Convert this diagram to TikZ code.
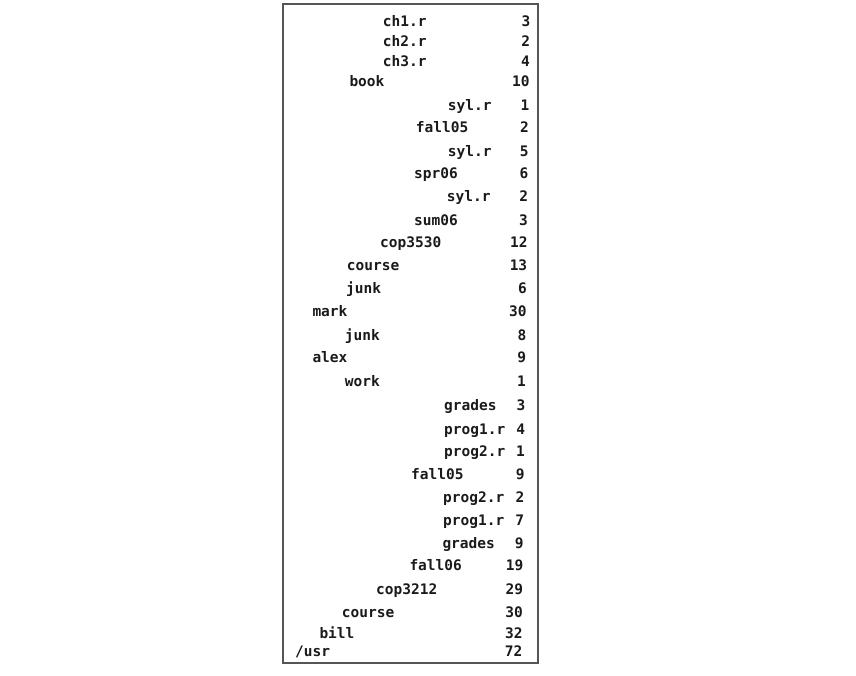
\documentclass[tikz,border=0pt]{standalone}
\usepackage{fontspec}
\setmonofont{DejaVu Sans Mono}
\usepackage{xcolor}
\usepackage{tikz}
\usetikzlibrary{positioning}
\definecolor{inkdark}{HTML}{1A1A1A}
\definecolor{framegray}{HTML}{555555}
\tikzset{
  entry/.style={font=\ttfamily\bfseries\fontsize{14.5}{17}\selectfont, text=inkdark, anchor=base west, inner sep=0pt},
  kbsize/.style={entry, anchor=base east},
  frame/.style={draw=framegray, line width=1.3pt},
}
\begin{document}
\begin{tikzpicture}[x=1pt, y=-1pt]
  \useasboundingbox (0,0) rectangle (856,675);
  \draw[frame] (283,4) rectangle (538,663);
  % one row per file: name at its indent, size flush right
  \foreach \i/\x/\y/\name/\kb in {
      1/382.7/26.7/ch1.r/3, 2/382.7/46.7/ch2.r/2, 3/382.7/66.7/ch3.r/4,
      4/349.3/86/book/10, 5/447.7/110/syl.r/1, 6/415.7/132.7/fall05/2,
      7/447.7/156/syl.r/5, 8/414/178.3/spr06/6, 9/446.7/201.7/syl.r/2,
      10/414/225/sum06/3, 11/380/247.3/cop3530/12, 12/346.7/270/course/13,
      13/346/293.3/junk/6, 14/312.3/316/mark/30, 15/344.7/340/junk/8,
      16/312.3/362.3/alex/9, 17/344.7/386/work/1, 18/444/410.7/grades/3,
      19/444/434/prog1.r/4, 20/444/456.7/prog2.r/1, 21/411/479/fall05/9,
      22/443/502.3/prog2.r/2, 23/443/525.7/prog1.r/7, 24/442.3/548.3/grades/9,
      25/409.3/570.7/fall06/19, 26/376/594/cop3212/29, 27/341.7/617/course/30,
      28/319.3/638/bill/32, 29/295/656.5/{/usr}/72} {
    \pgfmathsetmacro\xr{530.5-8*(\y-26.7)/631}
    \node[entry] (n\i) at (\x,\y) {\name};
    \node[kbsize] (s\i) at (\xr,\y) {\kb};
  }
\end{tikzpicture}
\end{document}
